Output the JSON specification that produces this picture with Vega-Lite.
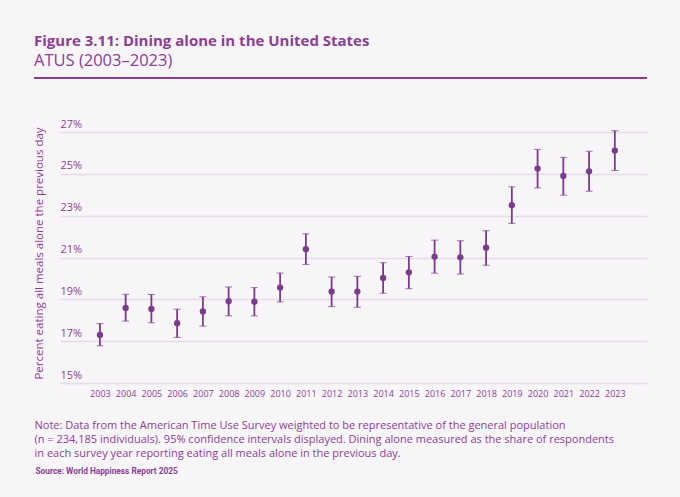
{
  "$schema": "https://vega.github.io/schema/vega-lite/v6.json",
  "autosize": {"type": "none"},
  "width": 587,
  "height": 251,
  "padding": {"left": 60, "top": 132, "right": 33, "bottom": 114},
  "background": "#f8f5f8",
  "config": {
    "view": {"stroke": null},
    "font": "Open Sans"
  },
  "title": {
    "text": "Figure 3.11: Dining alone in the United States",
    "subtitle": "ATUS (2003–2023)",
    "anchor": "start",
    "frame": "group",
    "dx": -26,
    "offset": 8,
    "fontSize": 15,
    "fontWeight": "bold",
    "color": "#8a3f92",
    "subtitleFontSize": 16.5,
    "subtitleColor": "#8a3f92",
    "subtitlePadding": 4
  },
  "data": {
    "values": [
      {"year": 2003, "value": 17.30, "lo": 16.78, "hi": 17.84},
      {"year": 2004, "value": 18.59, "lo": 17.96, "hi": 19.24},
      {"year": 2005, "value": 18.54, "lo": 17.88, "hi": 19.23},
      {"year": 2006, "value": 17.86, "lo": 17.18, "hi": 18.53},
      {"year": 2007, "value": 18.42, "lo": 17.72, "hi": 19.12},
      {"year": 2008, "value": 18.91, "lo": 18.21, "hi": 19.59},
      {"year": 2009, "value": 18.89, "lo": 18.21, "hi": 19.56},
      {"year": 2010, "value": 19.56, "lo": 18.88, "hi": 20.26},
      {"year": 2011, "value": 21.40, "lo": 20.67, "hi": 22.13},
      {"year": 2012, "value": 19.37, "lo": 18.65, "hi": 20.07},
      {"year": 2013, "value": 19.37, "lo": 18.62, "hi": 20.10},
      {"year": 2014, "value": 20.02, "lo": 19.29, "hi": 20.75},
      {"year": 2015, "value": 20.29, "lo": 19.51, "hi": 21.05},
      {"year": 2016, "value": 21.04, "lo": 20.25, "hi": 21.83},
      {"year": 2017, "value": 21.01, "lo": 20.21, "hi": 21.80},
      {"year": 2018, "value": 21.47, "lo": 20.63, "hi": 22.28},
      {"year": 2019, "value": 23.50, "lo": 22.63, "hi": 24.38},
      {"year": 2020, "value": 25.25, "lo": 24.33, "hi": 26.17},
      {"year": 2021, "value": 24.90, "lo": 23.98, "hi": 25.79},
      {"year": 2022, "value": 25.12, "lo": 24.17, "hi": 26.08},
      {"year": 2023, "value": 26.11, "lo": 25.16, "hi": 27.06}
    ]
  },
  "resolve": {"axis": {"y": "independent"}},
  "encoding": {
    "x": {
      "field": "year",
      "type": "quantitative",
      "scale": {"domain": [2001.45, 2024.25], "nice": false, "zero": false},
      "axis": {
        "values": [2003, 2004, 2005, 2006, 2007, 2008, 2009, 2010, 2011, 2012, 2013, 2014, 2015, 2016, 2017, 2018, 2019, 2020, 2021, 2022, 2023],
        "format": "d",
        "grid": false,
        "domain": false,
        "ticks": false,
        "labelFontSize": 9,
        "labelColor": "#8a3f92",
        "labelPadding": 6,
        "labelFlush": false,
        "labelOverlap": false,
        "title": [
          "Note: Data from the American Time Use Survey weighted to be representative of the general population",
          "(n = 234,185 individuals). 95% confidence intervals displayed. Dining alone measured as the share of respondents",
          "in each survey year reporting eating all meals alone in the previous day."
        ],
        "titleFontSize": 11,
        "titleFontWeight": "normal",
        "titleColor": "#8a3f92",
        "titleAlign": "left",
        "titleBaseline": "alphabetic",
        "titleLineHeight": 14,
        "titleX": -26,
        "titleY": 45
      }
    }
  },
  "layer": [
    {
      "mark": {"type": "errorbar", "ticks": {"size": 7, "color": "#7b3b8c", "strokeWidth": 1.8}, "rule": {"color": "#7b3b8c", "strokeWidth": 1.8}},
      "encoding": {
        "y": {
          "field": "lo",
          "type": "quantitative",
          "scale": {"domain": [15, 27], "nice": false, "zero": false},
          "axis": {
            "values": [15, 17, 19, 21, 23, 25, 27],
            "labelExpr": "datum.value + '%'",
            "grid": true,
            "gridColor": "#e4dce6",
            "gridWidth": 1.5,
            "domain": false,
            "ticks": false,
            "tickSize": 0,
            "labelPadding": 0,
            "labelAlign": "left",
            "labelBaseline": "alphabetic",
            "labelOffset": -5,
            "labelFontSize": 11,
            "labelColor": "#8a3f92",
            "labelFlush": false,
            "labelOverlap": false,
            "title": "Percent eating all meals alone the previous day",
            "titleFontSize": 11.5,
            "titleFontWeight": 500,
            "titleColor": "#8a3f92",
            "titleX": -21,
            "titleY": 121,
            "titleBaseline": "middle",
            "titleAlign": "center"
          }
        },
        "y2": {"field": "hi"}
      }
    },
    {
      "mark": {"type": "point", "filled": true, "opacity": 1, "size": 40, "color": "#7b3b8c"},
      "encoding": {
        "y": {
          "field": "value",
          "type": "quantitative",
          "scale": {"domain": [15, 27], "nice": false, "zero": false},
          "axis": {
            "orient": "right",
            "labels": false,
            "grid": false,
            "domain": false,
            "ticks": false,
            "title": "Source: World Happiness Report 2025",
            "titleAngle": 0,
            "titleFont": "Roboto",
            "titleFontSize": 8.3,
            "titleFontWeight": "bold",
            "titleColor": "#8a3f92",
            "titleAlign": "left",
            "titleBaseline": "alphabetic",
            "titleX": -612,
            "titleY": 341
          }
        }
      }
    },
    {
      "mark": {"type": "rule", "color": "#8a3f92", "strokeWidth": 1.5},
      "encoding": {
        "x": {
          "datum": 2000.44,
          "type": "quantitative",
          "axis": {
            "values": [2003, 2004, 2005, 2006, 2007, 2008, 2009, 2010, 2011, 2012, 2013, 2014, 2015, 2016, 2017, 2018, 2019, 2020, 2021, 2022, 2023],
            "format": "d",
            "grid": false,
            "domain": false,
            "ticks": false,
            "labelFontSize": 9,
            "labelColor": "#8a3f92",
            "labelPadding": 6,
            "labelFlush": false,
            "labelOverlap": false,
            "title": [
              "Note: Data from the American Time Use Survey weighted to be representative of the general population",
              "(n = 234,185 individuals). 95% confidence intervals displayed. Dining alone measured as the share of respondents",
              "in each survey year reporting eating all meals alone in the previous day."
            ],
            "titleFontSize": 11,
            "titleFontWeight": "normal",
            "titleColor": "#8a3f92",
            "titleAlign": "left",
            "titleBaseline": "alphabetic",
            "titleLineHeight": 14,
            "titleX": -26,
            "titleY": 45
          }
        },
        "x2": {"datum": 2024.25},
        "y": {"datum": 29.58, "type": "quantitative", "axis": null}
      }
    }
  ]
}
